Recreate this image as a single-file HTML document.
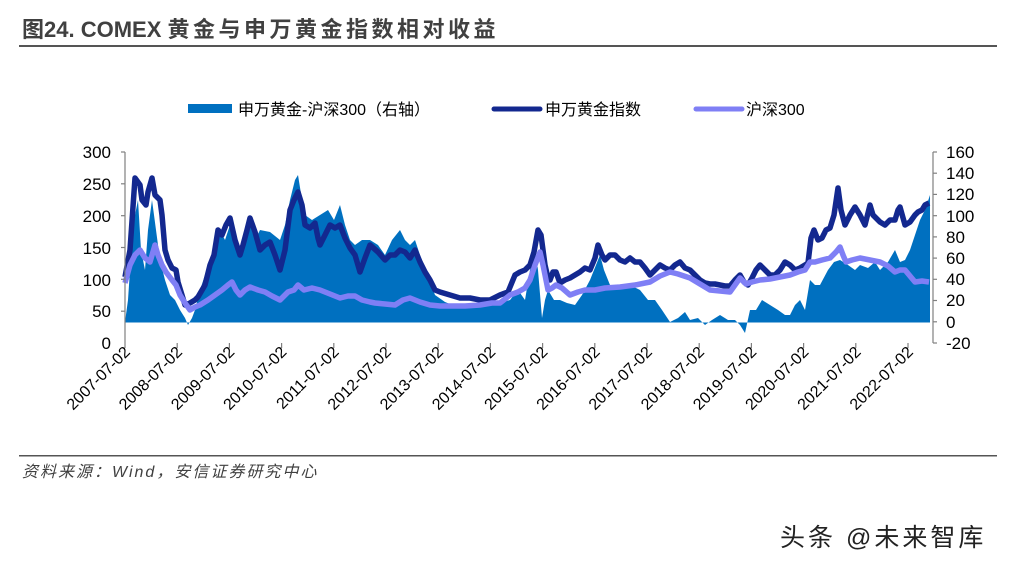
<!DOCTYPE html>
<html><head><meta charset="utf-8"><style>
body{margin:0;background:#fff;width:1009px;height:564px;overflow:hidden;font-family:"Liberation Sans","Noto Sans CJK SC",sans-serif}
</style></head><body>
<svg width="1009" height="564" xmlns="http://www.w3.org/2000/svg" font-family="Liberation Sans, Noto Sans CJK SC, sans-serif">
<text x="22" y="37" font-size="22" font-weight="bold" fill="#404040">图24. COMEX <tspan letter-spacing="3.5">黄金与申万黄金指数相对收益</tspan></text>
<rect x="19" y="45" width="978" height="2" fill="#555"/>
<rect x="188" y="104" width="44" height="9" fill="#0070c0"/>
<text x="238" y="115" font-size="16" fill="#000">申万黄金-沪深300（右轴）</text>
<line x1="494" y1="109" x2="540" y2="109" stroke="#13288f" stroke-width="5" stroke-linecap="round"/>
<text x="545" y="115" font-size="16" fill="#000">申万黄金指数</text>
<line x1="696" y1="109" x2="742" y2="109" stroke="#7f7ff5" stroke-width="5" stroke-linecap="round"/>
<text x="746" y="115" font-size="16" fill="#000">沪深300</text>
<polygon fill="#0070c0" points="125,322.5 125,322 128,300 132,240 135,215 138,200 141,250 145,270 148,230 152,200 156,230 160,260 165,280 170,295 175,300 180,310 185,318 188,325 192,318 195,310 200,290 205,275 210,260 215,245 220,230 225,240 230,225 235,240 240,250 245,235 250,225 255,240 260,230 270,232 280,240 285,225 290,200 295,180 298,175 302,200 305,215 312,220 320,215 328,210 334,220 340,205 345,225 350,240 355,245 362,240 370,240 378,245 385,255 392,240 400,230 405,240 410,245 415,240 420,255 428,275 435,295 445,302 460,308 475,305 490,305 500,303 510,300 518,290 525,300 530,270 535,250 538,270 542,318 545,300 548,290 554,300 560,300 567,303 575,305 582,295 590,280 596,265 600,255 604,270 610,285 620,288 630,285 640,290 648,300 655,300 662,310 670,322 678,318 685,312 690,320 698,318 705,325 712,320 720,315 728,320 735,320 740,325 745,333 750,310 756,310 762,300 770,305 778,310 785,315 790,315 795,305 800,300 805,310 810,280 815,285 820,285 828,270 834,262 840,260 848,265 855,270 860,265 868,268 875,262 880,270 888,262 895,250 900,262 905,260 910,250 915,235 920,220 925,210 930,195 930,322.5"/>
<polyline fill="none" stroke="#13288f" stroke-width="5.5" stroke-linejoin="round" points="125,277 130,250 135,178 140,185 142,200 146,205 148,192 152,178 155,195 160,200 162,215 165,250 168,260 172,268 176,270 178,282 182,295 185,305 190,303 195,300 198,297 205,285 210,265 214,255 218,230 222,235 226,225 230,218 235,240 240,255 243,245 247,230 250,218 255,232 260,250 265,245 270,242 275,255 280,270 285,250 290,210 294,200 298,192 302,205 305,225 310,228 315,223 318,238 320,245 325,235 330,225 335,228 340,225 345,238 350,248 355,255 360,272 365,258 370,245 378,252 385,260 390,255 395,255 400,250 405,252 410,258 415,250 420,262 425,272 430,280 435,290 440,292 450,295 460,298 470,298 480,300 490,300 500,295 508,292 515,275 520,272 525,270 530,265 534,252 538,230 541,235 545,265 548,278 550,280 553,272 556,272 560,283 565,280 570,278 575,275 580,272 585,268 590,270 595,258 598,245 602,255 605,260 610,255 615,255 620,260 625,262 630,258 635,262 640,262 645,268 650,275 655,270 660,265 665,268 670,270 675,265 680,262 685,268 690,270 695,275 700,280 705,283 710,284 715,284 720,285 725,286 730,286 735,280 740,275 744,282 748,285 752,278 756,270 760,265 765,270 770,275 775,275 780,270 785,262 790,265 795,270 800,268 805,265 808,263 811,238 814,230 818,240 822,238 826,230 830,228 834,215 838,188 841,210 845,225 850,215 855,207 860,215 865,225 870,205 873,215 880,222 885,225 890,220 895,220 898,210 900,207 905,225 910,222 915,215 918,212 922,210 925,205 929,203"/>
<polyline fill="none" stroke="#7f7ff5" stroke-width="5.5" stroke-linejoin="round" points="125,283 130,265 135,255 140,250 145,258 150,262 155,245 158,255 162,265 166,272 172,280 176,285 180,295 185,303 190,310 195,307 200,305 208,300 215,295 222,290 228,285 232,282 236,290 240,295 245,290 250,287 258,290 265,292 272,296 280,300 288,292 294,290 298,285 304,290 312,288 320,290 330,294 340,298 348,296 355,296 362,300 370,302 375,303 385,304 395,305 403,300 410,298 420,302 430,305 440,306 450,306 465,306 480,305 492,303 500,303 510,295 518,292 525,288 530,280 535,265 540,252 543,265 548,290 552,288 556,285 562,288 570,295 578,292 585,290 595,290 605,288 620,287 635,285 650,282 660,276 670,272 678,274 690,278 700,284 710,290 720,291 730,292 735,285 740,278 746,284 752,282 760,280 770,279 780,277 790,275 798,272 805,270 810,262 815,262 822,260 830,258 836,252 840,247 843,255 846,262 852,260 860,258 870,260 880,262 888,266 895,272 900,270 905,270 910,276 915,282 922,281 929,282"/>
<g stroke="#808080" stroke-width="1.2">
<line x1="125" y1="152" x2="125" y2="343"/>
<line x1="121" y1="152" x2="125" y2="152"/><line x1="121" y1="183.8" x2="125" y2="183.8"/><line x1="121" y1="215.7" x2="125" y2="215.7"/><line x1="121" y1="247.5" x2="125" y2="247.5"/><line x1="121" y1="279.3" x2="125" y2="279.3"/><line x1="121" y1="311.2" x2="125" y2="311.2"/>
<line x1="933" y1="152" x2="933" y2="343"/>
<line x1="933" y1="152" x2="937" y2="152"/><line x1="933" y1="173.2" x2="937" y2="173.2"/><line x1="933" y1="194.4" x2="937" y2="194.4"/><line x1="933" y1="215.7" x2="937" y2="215.7"/><line x1="933" y1="236.9" x2="937" y2="236.9"/><line x1="933" y1="258.1" x2="937" y2="258.1"/><line x1="933" y1="279.3" x2="937" y2="279.3"/><line x1="933" y1="300.5" x2="937" y2="300.5"/><line x1="933" y1="321.8" x2="937" y2="321.8"/><line x1="933" y1="343" x2="937" y2="343"/>
<line x1="125" y1="343" x2="125" y2="348"/><line x1="177.2" y1="343" x2="177.2" y2="348"/><line x1="229.4" y1="343" x2="229.4" y2="348"/><line x1="281.6" y1="343" x2="281.6" y2="348"/><line x1="333.8" y1="343" x2="333.8" y2="348"/><line x1="386" y1="343" x2="386" y2="348"/><line x1="438.2" y1="343" x2="438.2" y2="348"/><line x1="490.4" y1="343" x2="490.4" y2="348"/><line x1="542.6" y1="343" x2="542.6" y2="348"/><line x1="594.8" y1="343" x2="594.8" y2="348"/><line x1="647" y1="343" x2="647" y2="348"/><line x1="699.2" y1="343" x2="699.2" y2="348"/><line x1="751.4" y1="343" x2="751.4" y2="348"/><line x1="803.6" y1="343" x2="803.6" y2="348"/><line x1="855.8" y1="343" x2="855.8" y2="348"/><line x1="908" y1="343" x2="908" y2="348"/>
</g>
<g font-size="17" fill="#000" text-anchor="end">
<text x="111" y="158">300</text><text x="111" y="190">250</text><text x="111" y="222">200</text><text x="111" y="254">150</text><text x="111" y="286">100</text><text x="111" y="317">50</text><text x="111" y="349">0</text>
</g>
<g font-size="17" fill="#000" text-anchor="start">
<text x="946" y="158">160</text><text x="946" y="179">140</text><text x="946" y="200">120</text><text x="946" y="222">100</text><text x="946" y="243">80</text><text x="946" y="264">60</text><text x="946" y="285">40</text><text x="946" y="306">20</text><text x="946" y="328">0</text><text x="946" y="349">-20</text>
</g>
<g font-size="16" fill="#000" text-anchor="end">
<text transform="translate(131,353) rotate(-45)">2007-07-02</text>
<text transform="translate(183.2,353) rotate(-45)">2008-07-02</text>
<text transform="translate(235.4,353) rotate(-45)">2009-07-02</text>
<text transform="translate(287.6,353) rotate(-45)">2010-07-02</text>
<text transform="translate(339.8,353) rotate(-45)">2011-07-02</text>
<text transform="translate(392,353) rotate(-45)">2012-07-02</text>
<text transform="translate(444.2,353) rotate(-45)">2013-07-02</text>
<text transform="translate(496.4,353) rotate(-45)">2014-07-02</text>
<text transform="translate(548.6,353) rotate(-45)">2015-07-02</text>
<text transform="translate(600.8,353) rotate(-45)">2016-07-02</text>
<text transform="translate(653,353) rotate(-45)">2017-07-02</text>
<text transform="translate(705.2,353) rotate(-45)">2018-07-02</text>
<text transform="translate(757.4,353) rotate(-45)">2019-07-02</text>
<text transform="translate(809.6,353) rotate(-45)">2020-07-02</text>
<text transform="translate(861.8,353) rotate(-45)">2021-07-02</text>
<text transform="translate(914,353) rotate(-45)">2022-07-02</text>
</g>
<rect x="19" y="455" width="978" height="1.5" fill="#555"/>
<text x="22" y="477" font-size="16" font-style="italic" fill="#404040" letter-spacing="2">资料来源：Wind，安信证券研究中心</text>
<text x="780" y="546" font-size="25" fill="#222" letter-spacing="3">头条 @未来智库</text>
</svg>
</body></html>
